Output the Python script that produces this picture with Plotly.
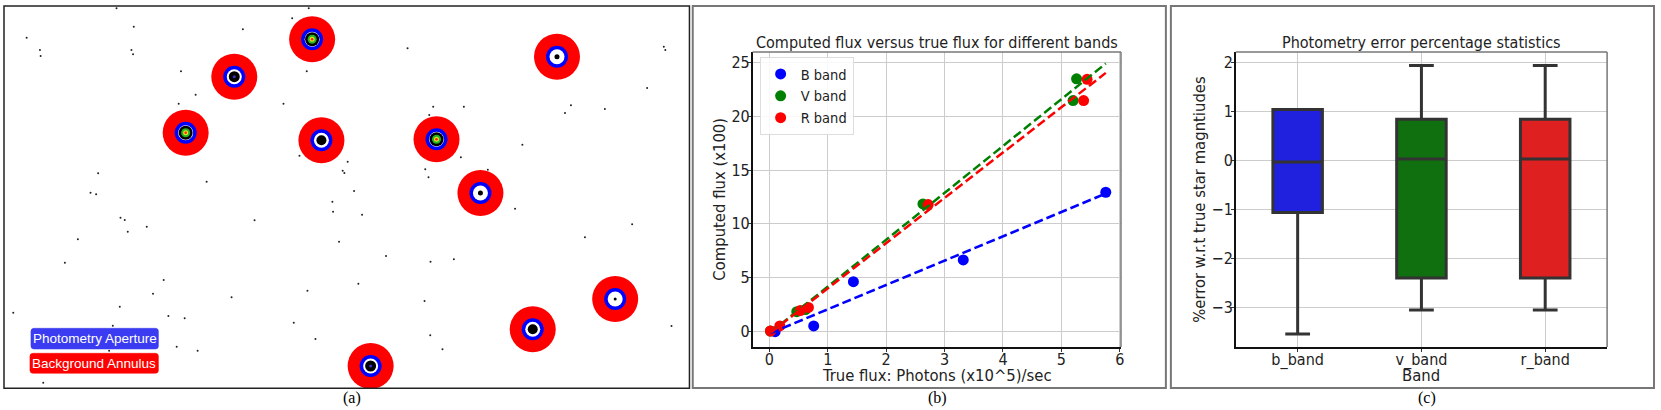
import numpy as np
import plotly.graph_objects as go

W, H = 1661, 410

# ---- panel (a): star field, positions in image pixels ----
star_x = [312.7, 234.7, 186.0, 322.0, 437.3, 481.3, 558.0, 616.3, 533.7, 371.3]
star_y = [39.3, 76.7, 132.7, 140.3, 139.3, 193.0, 56.7, 299.0, 329.3, 366.0]
star_core = ["color", "dark", "color", "blob", "color", "small", "small", "specks", "blob", "dark"]

specks = [(116.7, 8.3), (26.7, 37.7), (40.0, 50.0), (40.7, 56.0), (134.0, 26.7), (131.7, 50.0),
          (133.3, 54.3), (243.3, 29.3), (292.7, 18.3), (309.3, 8.3), (181.3, 71.3), (196.0, 94.7),
          (179.0, 103.7), (284.0, 103.7), (307.3, 71.3), (98.3, 173.3), (207.0, 181.7), (90.7, 192.7),
          (96.3, 194.3), (120.7, 217.7), (125.0, 220.0), (147.0, 226.7), (128.0, 231.7), (78.0, 239.3),
          (255.0, 220.3), (333.0, 201.7), (333.7, 211.7), (339.7, 241.7), (65.0, 262.7), (164.0, 280.0),
          (153.3, 293.7), (232.0, 297.3), (308.0, 290.7), (120.0, 306.7), (13.3, 312.7), (168.7, 316.0),
          (185.0, 318.3), (294.3, 322.7), (113.0, 325.7), (316.0, 339.0), (177.0, 346.7), (198.0, 350.7),
          (109.3, 350.7), (43.3, 382.7), (300.0, 155.7), (343.3, 170.7), (348.3, 161.7), (345.0, 173.0),
          (408.3, 48.3), (665.0, 46.7), (666.5, 50.0), (648.3, 88.0), (434.0, 106.7), (464.7, 106.7),
          (572.0, 105.3), (566.0, 113.0), (606.0, 109.0), (430.0, 115.0), (523.3, 144.7), (461.7, 157.3),
          (426.0, 169.3), (429.3, 177.3), (488.7, 169.7), (354.7, 191.0), (516.0, 208.7), (362.7, 214.7),
          (633.3, 224.3), (586.0, 237.3), (386.7, 256.0), (431.3, 261.7), (454.7, 259.3), (359.0, 283.7),
          (425.3, 301.0), (672.7, 326.0), (431.0, 335.3), (443.3, 349.3)]
speck_x = [p[0] for p in specks]
speck_y = [p[1] for p in specks]

# ---- panel (b): computed vs true flux ----
b_true = [0.10, 0.76, 1.44, 3.32, 5.76]
b_comp = [-0.06, 0.47, 4.60, 6.62, 12.93]
v_true = [0.02, 0.47, 0.62, 2.63, 5.20, 5.26]
v_comp = [0.00, 1.80, 2.00, 11.84, 21.47, 23.50]
r_true = [0.02, 0.18, 0.53, 0.67, 2.72, 5.38, 5.44]
r_comp = [0.00, 0.47, 1.90, 2.20, 11.78, 21.47, 23.45]

# ---- panel (c): error statistics ----
bands = ["b_band", "v_band", "r_band"]
err_low = [-3.55, -3.06, -3.06]
err_q1 = [-1.07, -2.41, -2.41]
err_med = [-0.04, 0.02, 0.02]
err_q3 = [1.03, 0.83, 0.83]
err_high = [1.03, 1.93, 1.93]


def px(x):
    return x / W


def py(y):
    return 1 - y / H


def rounded(x0, y0, x1, y1, r=3):
    return (f"M{x0 + r},{y0} L{x1 - r},{y0} Q{x1},{y0} {x1},{y0 + r} L{x1},{y1 - r} "
            f"Q{x1},{y1} {x1 - r},{y1} L{x0 + r},{y1} Q{x0},{y1} {x0},{y1 - r} "
            f"L{x0},{y0 + r} Q{x0},{y0} {x0 + r},{y0} Z")


FONT = "DejaVu Sans Condensed, DejaVu Sans"
fig = go.Figure()

# panel (a)
fig.add_trace(go.Scatter(x=speck_x, y=speck_y, mode="markers", xaxis="x", yaxis="y",
                         marker=dict(size=2, color="#222"), showlegend=False, hoverinfo="skip"))
for size, col in [(46, "#ff0000"), (22, "#0000ff"), (15, "#ffffff")]:
    fig.add_trace(go.Scatter(x=star_x, y=star_y, mode="markers", xaxis="x", yaxis="y",
                             marker=dict(size=size, color=col, line=dict(width=0)),
                             showlegend=False, hoverinfo="skip"))

core_layers = {
    "color": [(14, "#000000"), (9, "#22b422"), (5, "#e8e020"), (2.5, "#ff2000")],
    "dark": [(11, "#000000"), (3, "#4030c0")],
    "blob": [(10, "#000000")],
    "small": [(5, "#000000")],
    "specks": [(3, "#000000")],
}
for kind, layers in core_layers.items():
    xs = [x for x, k in zip(star_x, star_core) if k == kind]
    ys = [y for y, k in zip(star_y, star_core) if k == kind]
    for size, col in layers:
        fig.add_trace(go.Scatter(x=xs, y=ys, mode="markers", xaxis="x", yaxis="y",
                                 marker=dict(size=size, color=col, line=dict(width=0)),
                                 showlegend=False, hoverinfo="skip"))

# panel (b)
series = [("B band", b_true, b_comp, "#0000ff"),
          ("V band", v_true, v_comp, "#008000"),
          ("R band", r_true, r_comp, "#ff0000")]
for name, xs, ys, col in series:
    fig.add_trace(go.Scatter(x=xs, y=ys, mode="markers", name=name, xaxis="x2", yaxis="y2",
                             marker=dict(size=11, color=col)))
all_x = b_true + v_true + r_true
fit_x = np.array([min(all_x), max(all_x)])
for name, xs, ys, col in series:
    slope, icpt = np.polyfit(xs, ys, 1)
    fig.add_trace(go.Scatter(x=fit_x, y=slope * fit_x + icpt, mode="lines", xaxis="x2", yaxis="y2",
                             line=dict(color=col, width=2.5, dash="9px,4px"),
                             showlegend=False, hoverinfo="skip"))

# panel (c)
box_cols = ["#2020df", "#107010", "#df2020"]
for i, band in enumerate(bands):
    fig.add_trace(go.Box(x=[band], q1=[err_q1[i]], median=[err_med[i]], q3=[err_q3[i]],
                         lowerfence=[err_low[i]], upperfence=[err_high[i]],
                         xaxis="x3", yaxis="y3", fillcolor=box_cols[i], width=0.4,
                         whiskerwidth=0.5, line=dict(color="#333333", width=3),
                         boxpoints=False, showlegend=False))

grid = "#cccccc"
tickfont = dict(family=FONT, size=16, color="#222")
titlefont = dict(family=FONT, size=16.5, color="#222")
common = dict(showgrid=True, gridcolor=grid, gridwidth=1, zeroline=False, showline=True,
              linecolor="#111", linewidth=1.5, ticks="outside", ticklen=3, tickcolor="#333",
              tickfont=tickfont)

fig.update_layout(
    width=W, height=H, margin=dict(l=0, r=0, t=0, b=0),
    paper_bgcolor="white", plot_bgcolor="white",
    xaxis=dict(domain=[px(4), px(690.7)], range=[4, 690.7], visible=False),
    yaxis=dict(domain=[py(388.3), py(6)], range=[388.3, 6], visible=False),
    xaxis2=dict(domain=[px(754), px(1123)], range=[-0.285, 6.02], anchor="y2",
                tickvals=[0, 1, 2, 3, 4, 5, 6], ticklabelstandoff=-6, **common),
    yaxis2=dict(domain=[py(347), py(52)], range=[-1.49, 26.0], anchor="x2",
                tickvals=[0, 5, 10, 15, 20, 25], ticklabelstandoff=-5, **common),
    xaxis3=dict(domain=[px(1238), px(1610)], range=[-0.5, 2.5], anchor="y3",
                type="category", ticklabelstandoff=-6, **common),
    yaxis3=dict(domain=[py(347), py(52)], range=[-3.816, 2.204], anchor="x3",
                tickvals=[-3, -2, -1, 0, 1, 2], ticklabelstandoff=-5, **common),
    legend=dict(x=px(761), y=py(57), xanchor="left", yanchor="top",
                bgcolor="rgba(255,255,255,0.85)", bordercolor="#dddddd", borderwidth=1,
                font=dict(family=FONT, size=14.5, color="#222")),
)

# top / right spines in grey
for ax, yax in [("x2", "y2"), ("x3", "y3")]:
    fig.add_shape(type="line", xref=f"{ax} domain", yref=f"{yax} domain", x0=0, x1=1, y0=1, y1=1,
                  line=dict(color="#777", width=1.5))
    fig.add_shape(type="line", xref=f"{ax} domain", yref=f"{yax} domain", x0=1, x1=1, y0=0, y1=1,
                  line=dict(color="#777", width=1.5))

# panel frames
frames = [((4, 6, 690.7, 388.3), "#222", 1.5), ((694, 6, 1168, 388), "#777", 2),
          ((1173, 6, 1657, 388), "#777", 2)]
for (x0, y0, x1, y1), col, lw in frames:
    fig.add_shape(type="rect", xref="paper", yref="paper", x0=px(x0), x1=px(x1), y0=py(y1), y1=py(y0),
                  line=dict(color=col, width=lw))

# titles
for text, cx in [("Computed flux versus true flux for different bands", 938.5),
                 ("Photometry error percentage statistics", 1424)]:
    fig.add_annotation(text=text, x=px(cx), y=py(43), xref="paper", yref="paper", showarrow=False,
                       xanchor="center", yanchor="middle", font=dict(family=FONT, size=16, color="#222"))

# axis titles
for text, cx, cy, ang in [("True flux: Photons (x10^5)/sec", 938.5, 375, 0),
                          ("Computed flux (x100)", 720, 199, -90),
                          ("Band", 1424, 375, 0),
                          ("%error w.r.t true star magntiudes", 1201, 199, -90)]:
    fig.add_annotation(text=text, x=px(cx), y=py(cy), xref="paper", yref="paper", showarrow=False,
                       xanchor="center", yanchor="middle", textangle=ang, font=titlefont)

# captions
for text, cx in [("(a)", 353), ("(b)", 939), ("(c)", 1430)]:
    fig.add_annotation(text=text, x=px(cx), y=py(398), xref="paper", yref="paper", showarrow=False,
                       xanchor="center", yanchor="middle",
                       font=dict(family="Liberation Serif", size=16, color="black"))

# panel (a) legend boxes
for text, x0, y0, x1, y1, col in [("Photometry Aperture", 31, 328.3, 158.7, 349, "#3b3bf2"),
                                  ("Background Annulus", 30, 353.3, 158.7, 373.3, "#ff0000")]:
    fig.add_shape(type="path", xref="x", yref="y", path=rounded(x0, y0, x1, y1),
                  fillcolor=col, line=dict(color=col, width=0.5))
    fig.add_annotation(text=text, x=(x0 + x1) / 2, y=(y0 + y1) / 2, xref="x", yref="y",
                       showarrow=False, xanchor="center", yanchor="middle",
                       font=dict(family="Liberation Sans", size=13.5, color="white"))

fig.write_html("out.html", post_script="document.body.style.margin='0';",
               config={"displayModeBar": False})
